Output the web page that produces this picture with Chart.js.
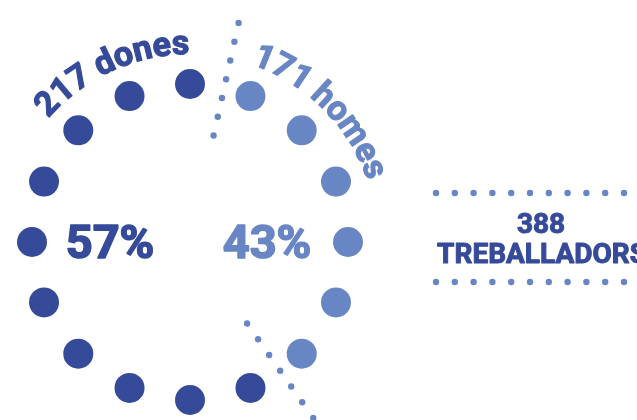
<!DOCTYPE html>
<html>
<head>
<meta charset="utf-8">
<script src="https://cdn.jsdelivr.net/npm/chart.js@4"></script>
<style>
  html, body { margin: 0; padding: 0; background: #fff; }
  #wrap { width: 637px; height: 420px; position: relative; }
</style>
</head>
<body>
<div id="wrap"><canvas id="chart"></canvas></div>
<script>
'use strict';
// Dades: plantilla per sexe
const groups = ['dones', 'homes'];
const counts = [217, 171];
const percents = [57, 43];
const total = 388;
const totalLabel = 'TREBALLADORS';

// 16 punts del cercle (comencen a dalt i van en sentit horari)
const dotSlots = ['p1', 'p2', 'p3', 'p4', 'p5', 'p6', 'p7', 'p8',
                  'p9', 'p10', 'p11', 'p12', 'p13', 'p14', 'p15', 'p16'];
const dotValues = [1, 1, 1, 1, 1, 1, 1, 1, 1, 1, 1, 1, 1, 1, 1, 1];
const dotGroup = ['dones', 'homes', 'homes', 'homes', 'homes', 'homes', 'homes', 'dones',
                  'dones', 'dones', 'dones', 'dones', 'dones', 'dones', 'dones', 'dones'];

const DARK = '#364a9a';
const LIGHT = '#6986c4';
const colorOf = { dones: DARK, homes: LIGHT };
const FONT = 'Roboto, "DejaVu Sans", sans-serif';

// línies de punts que separen els dos grups (angle en graus, radis en unitats de l'escala r)
const dividers = [
  { angle: 12.5, from: 0.69, to: 1.42 },
  { angle: 145, from: 0.63, to: 1.36 }
];

function dottedLine(ctx, x1, y1, x2, y2, gap, r, color) {
  const len = Math.hypot(x2 - x1, y2 - y1);
  const n = Math.round(len / gap);
  ctx.fillStyle = color;
  for (let i = 0; i <= n; i++) {
    const t = i / n;
    ctx.beginPath();
    ctx.arc(x1 + (x2 - x1) * t, y1 + (y2 - y1) * t, r, 0, Math.PI * 2);
    ctx.fill();
  }
}

// text una mica més gruixut, com la lletra de l'original
function heavyText(ctx, str, x, y, weight) {
  ctx.lineWidth = weight;
  ctx.lineJoin = 'round';
  ctx.strokeStyle = ctx.fillStyle;
  ctx.strokeText(str, x, y);
  ctx.fillText(str, x, y);
}

function arcText(ctx, text, cx, cy, radius, centerDeg, font, color) {
  ctx.save();
  ctx.font = font;
  ctx.fillStyle = color;
  ctx.textAlign = 'center';
  ctx.textBaseline = 'alphabetic';
  const widths = [...text].map(ch => ctx.measureText(ch).width);
  const totalW = widths.reduce((a, b) => a + b, 0);
  let a = centerDeg * Math.PI / 180 - totalW / 2 / radius;
  [...text].forEach((ch, i) => {
    const mid = a + widths[i] / 2 / radius;
    ctx.save();
    ctx.translate(cx + radius * Math.sin(mid), cy - radius * Math.cos(mid));
    ctx.rotate(mid);
    heavyText(ctx, ch, 0, 0, 1.2);
    ctx.restore();
    a += widths[i] / radius;
  });
  ctx.restore();
}

const decorPlugin = {
  id: 'decor',
  afterDatasetsDraw(chart) {
    const ctx = chart.ctx;
    const r = chart.scales.r;
    const cx = r.xCenter, cy = r.yCenter;
    const unit = r.getDistanceFromCenterForValue(1);

    dividers.forEach(d => {
      const a = d.angle * Math.PI / 180;
      const s = Math.sin(a), c = Math.cos(a);
      dottedLine(ctx, cx + s * unit * d.from, cy - c * unit * d.from,
                 cx + s * unit * d.to, cy - c * unit * d.to, 19.2, 3.2, LIGHT);
    });

    // etiquetes corbes
    arcText(ctx, counts[0] + ' ' + groups[0], cx, cy, unit * 1.19, -24.5, 'bold 34px ' + FONT, DARK);
    arcText(ctx, counts[1] + ' ' + groups[1], cx, cy, unit * 1.19, 45, 'bold 34px ' + FONT, LIGHT);

    // percentatges
    ctx.save();
    ctx.font = 'bold 47px ' + FONT;
    ctx.textAlign = 'center';
    ctx.textBaseline = 'alphabetic';
    ctx.fillStyle = DARK;
    heavyText(ctx, percents[0] + '%', cx - 80, cy + 16, 1.6);
    ctx.fillStyle = LIGHT;
    heavyText(ctx, percents[1] + '%', cx + 77, cy + 16, 1.6);
    ctx.restore();

    // total a la dreta
    const w = chart.width;
    [193, 282].forEach(y => {
      ctx.fillStyle = LIGHT;
      for (let x = 436; x < w + 6; x += 18.8) {
        ctx.beginPath();
        ctx.arc(x, y, 3.2, 0, Math.PI * 2);
        ctx.fill();
      }
    });
    ctx.save();
    ctx.font = 'bold 28px ' + FONT;
    ctx.textAlign = 'center';
    ctx.fillStyle = DARK;
    heavyText(ctx, String(total), 541, 233, 1);
    heavyText(ctx, totalLabel, 542, 263, 1);
    ctx.restore();
  }
};

const ctx = document.getElementById('chart').getContext('2d');
new Chart(ctx, {
  type: 'radar',
  data: {
    labels: dotSlots,
    datasets: [{
      data: dotValues,
      pointBackgroundColor: dotGroup.map(g => colorOf[g]),
      pointHoverBackgroundColor: dotGroup.map(g => colorOf[g]),
      pointBorderWidth: 0,
      pointHoverBorderWidth: 0,
      pointRadius: 15,
      pointHoverRadius: 15,
      borderWidth: 0,
      backgroundColor: 'rgba(0,0,0,0)',
      fill: false,
      clip: false
    }]
  },
  options: {
    responsive: true,
    maintainAspectRatio: false,
    animation: false,
    layout: { padding: { left: 32, top: 84, right: 289, bottom: 20 } },
    plugins: { legend: { display: false }, tooltip: { enabled: false } },
    scales: {
      r: {
        min: 0,
        max: 1,
        grid: { display: false },
        angleLines: { display: false },
        ticks: { display: false },
        pointLabels: { display: false }
      }
    }
  },
  plugins: [decorPlugin]
});
</script>
</body>
</html>
